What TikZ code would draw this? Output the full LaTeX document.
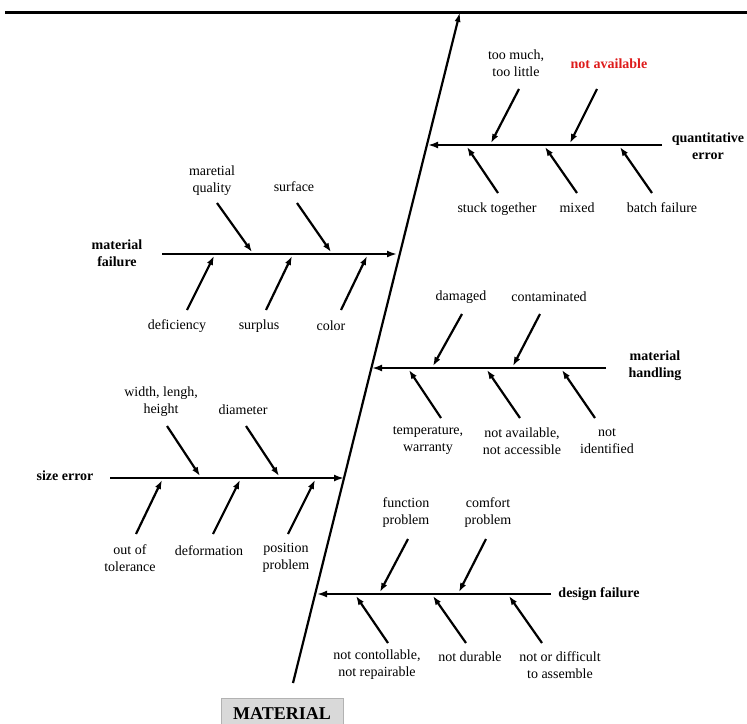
\documentclass[tikz,border=0pt]{standalone}
\usepackage{fontspec}
\setmainfont{Liberation Serif}
\usetikzlibrary{arrows.meta}
\definecolor{alertred}{RGB}{222,28,28}
\definecolor{boxgray}{RGB}{217,217,217}
\tikzset{
  spine/.style={line width=2.2pt,-{Latex[length=10pt,width=6pt]}},
  bone/.style={line width=2.8pt,-{Latex[length=10pt,width=7pt]}},
  cause/.style={line width=2.2pt,-{Latex[length=9pt,width=6.5pt]}},
  txt/.style={font=\fontsize{14}{17}\selectfont,align=center,inner sep=0pt},
  hd/.style={txt,font=\fontsize{14}{17}\selectfont\bfseries},
}
\begin{document}
\begin{tikzpicture}[x=1pt,y=-1pt]
\useasboundingbox (0,0) rectangle (747,723);
\draw[line width=3pt] (5,12) -- (747,12);
\coordinate(T) at (460,12);
\coordinate(B) at (293,683);
\draw[spine] (B) -- (T);
\node[draw=gray!60,fill=boxgray,font=\fontsize{18}{20}\selectfont\bfseries,minimum width=122pt,minimum height=30pt,anchor=north](M) at (282,698) {MATERIAL};

% quantitative error
\node[hd](QE) at (708,146) {quantitative\\error};
\coordinate(QE0) at (662,145);
\coordinate(QE1) at (428,145);
\draw[bone] (QE0) -- (QE1);
\node[txt](q1) at (516,63) {too much,\\too little};
\node[hd,text=alertred](q2) at (609,64) {not available};
\node[txt](q3) at (497,209) {stuck together};
\node[txt](q4) at (577,208) {mixed};
\node[txt](q5) at (662,208) {batch failure};
\coordinate(q1t) at (519,89);  \coordinate(q1h) at (491,143);
\coordinate(q2t) at (597,89);  \coordinate(q2h) at (570,143);
\coordinate(q3t) at (498,193); \coordinate(q3h) at (467,147);
\coordinate(q4t) at (577,193); \coordinate(q4h) at (545,147);
\coordinate(q5t) at (652,193); \coordinate(q5h) at (620,147);
\path[cause]
(q1t) edge (q1h)
(q2t) edge (q2h)
(q3t) edge (q3h)
(q4t) edge (q4h)
(q5t) edge (q5h);

% material failure
\node[hd](MF) at (117,253) {material\\failure};
\coordinate(MF0) at (162,254);
\coordinate(MF1) at (397,254);
\draw[bone] (MF0) -- (MF1);
\node[txt](f1) at (212,181) {maretial\\quality};
\node[txt](f2) at (294,187) {surface};
\node[txt](f3) at (177,326) {deficiency};
\node[txt](f4) at (259,326) {surplus};
\node[txt](f5) at (331,326) {color};
\coordinate(f1t) at (217,203); \coordinate(f1h) at (252,252);
\coordinate(f2t) at (297,203); \coordinate(f2h) at (331,252);
\coordinate(f3t) at (187,310); \coordinate(f3h) at (214,256);
\coordinate(f4t) at (266,310); \coordinate(f4h) at (292,256);
\coordinate(f5t) at (341,310); \coordinate(f5h) at (367,256);
\path[cause]
(f1t) edge (f1h)
(f2t) edge (f2h)
(f3t) edge (f3h)
(f4t) edge (f4h)
(f5t) edge (f5h);

% material handling
\node[hd](MH) at (655,366) {material\\handling};
\coordinate(MH0) at (606,368);
\coordinate(MH1) at (372,368);
\draw[bone] (MH0) -- (MH1);
\node[txt](h1) at (461,297) {damaged};
\node[txt](h2) at (549,297) {contaminated};
\node[txt](h3) at (428,441) {temperature,\\warranty};
\node[txt](h4) at (522,441) {not available,\\not accessible};
\node[txt](h5) at (607,441) {not\\identified};
\coordinate(h1t) at (462,314); \coordinate(h1h) at (433,366);
\coordinate(h2t) at (540,314); \coordinate(h2h) at (513,366);
\coordinate(h3t) at (441,418); \coordinate(h3h) at (409,370);
\coordinate(h4t) at (520,418); \coordinate(h4h) at (487,370);
\coordinate(h5t) at (595,418); \coordinate(h5h) at (562,370);
\path[cause]
(h1t) edge (h1h)
(h2t) edge (h2h)
(h3t) edge (h3h)
(h4t) edge (h4h)
(h5t) edge (h5h);

% size error
\node[hd](SE) at (65,476) {size error};
\coordinate(SE0) at (110,478);
\coordinate(SE1) at (344,478);
\draw[bone] (SE0) -- (SE1);
\node[txt](s1) at (161,402) {width, lengh,\\height};
\node[txt](s2) at (243,410) {diameter};
\node[txt](s3) at (130,558) {out of\\tolerance};
\node[txt](s4) at (209,551) {deformation};
\node[txt](s5) at (286,558) {position\\problem};
\coordinate(s1t) at (167,426); \coordinate(s1h) at (200,476);
\coordinate(s2t) at (246,426); \coordinate(s2h) at (279,476);
\coordinate(s3t) at (136,534); \coordinate(s3h) at (162,480);
\coordinate(s4t) at (213,534); \coordinate(s4h) at (240,480);
\coordinate(s5t) at (288,534); \coordinate(s5h) at (315,480);
\path[cause]
(s1t) edge (s1h)
(s2t) edge (s2h)
(s3t) edge (s3h)
(s4t) edge (s4h)
(s5t) edge (s5h);

% design failure
\node[hd](DF) at (599,594) {design failure};
\coordinate(DF0) at (551,594);
\coordinate(DF1) at (317,594);
\draw[bone] (DF0) -- (DF1);
\node[txt](d1) at (406,513) {function\\problem};
\node[txt](d2) at (488,513) {comfort\\problem};
\node[txt](d3) at (377,665) {not contollable,\\not repairable};
\node[txt](d4) at (470,657) {not durable};
\node[txt](d5) at (560,665) {not or difficult\\to assemble};
\coordinate(d1t) at (408,539); \coordinate(d1h) at (380,592);
\coordinate(d2t) at (486,539); \coordinate(d2h) at (459,592);
\coordinate(d3t) at (388,643); \coordinate(d3h) at (356,596);
\coordinate(d4t) at (466,643); \coordinate(d4h) at (433,596);
\coordinate(d5t) at (542,643); \coordinate(d5h) at (509,596);
\path[cause]
(d1t) edge (d1h)
(d2t) edge (d2h)
(d3t) edge (d3h)
(d4t) edge (d4h)
(d5t) edge (d5h);
\end{tikzpicture}
\end{document}
